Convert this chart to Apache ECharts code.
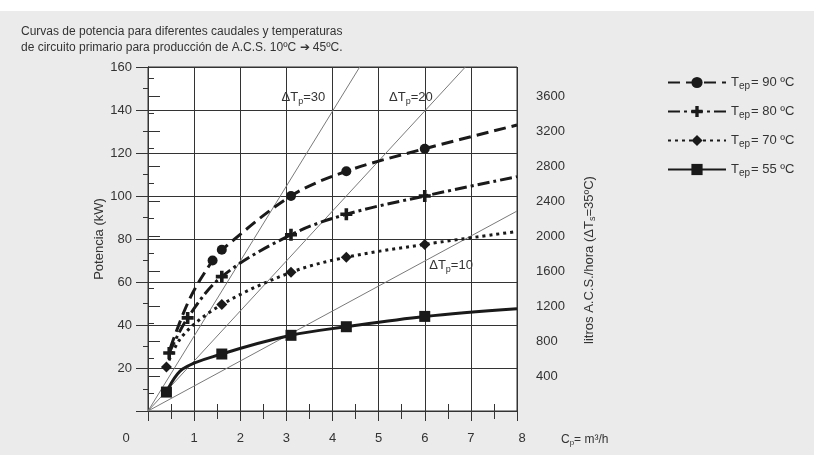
<!DOCTYPE html>
<html>
<head>
<meta charset="utf-8">
<script src="https://cdn.jsdelivr.net/npm/echarts@6/dist/echarts.min.js"></script>
<style>
  html, body { margin: 0; padding: 0; background: #ebebeb; }
  #chart { width: 814px; height: 455px; }
</style>
</head>
<body>
<div id="chart"></div>
<script>
// caudal primario (m3/h) vs potencia (kW)
const rightMajorTicks = [400, 800, 1200, 1600, 2000, 2400, 2800, 3200, 3600];
const rightMinorTicks = [200, 600, 1000, 1400, 1800, 2200, 2600, 3000, 3400, 3800];

const tep90 = [[0.48, 29], [0.9, 52], [1.4, 70], [1.6, 75], [3.1, 100], [4.3, 111.5], [6, 122], [8, 133]];
const tep90Marks = [1.4, 1.6, 3.1, 4.3, 6];
const tep80 = [[0.46, 27], [0.86, 43.3], [1.6, 62.5], [3.1, 82], [4.3, 91.5], [6, 100], [8, 109]];
const tep80Marks = [0.46, 0.86, 1.6, 3.1, 4.3, 6];
const tep70 = [[0.4, 20.5], [0.75, 35], [1.6, 49.5], [3.1, 64.5], [4.3, 71.5], [6, 77.5], [8, 83.5]];
const tep70Marks = [0.4, 1.6, 3.1, 4.3, 6];
const tep55 = [[0.4, 8.8], [0.75, 19.5], [1.6, 26.5], [3.1, 35.2], [4.3, 39.2], [6, 44], [8, 47.6]];
const tep55Marks = [0.4, 1.6, 3.1, 4.3, 6];

const dt10 = [[0, 0], [8, 93]];
const dt20 = [[0, 0], [6.88, 160]];
const dt30 = [[0, 0], [4.59, 160]];
const dtLabels = [['30', 3.37, 146], ['20', 5.7, 146], ['10', 6.57, 67.5]];

const FONT = "'Liberation Sans Narrow', 'Arial Narrow', 'Liberation Sans', Arial, sans-serif";
const INK = '#1a1a1a';
const GRID = '#333';
const PLUS = 'path://M3.5,0h3v3.5h3.5v3h-3.5v3.5h-3v-3.5h-3.5v-3h3.5z';

const withMarks = (points, marks) => points.map(p =>
  marks.includes(p[0]) ? { value: p } : { value: p, symbol: 'none' });

const curve = (name, points, marks, symbol, symbolSize, dash) => ({
  name: name,
  type: 'line',
  smooth: 0.35,
  symbol: symbol,
  symbolSize: symbolSize,
  showSymbol: true,
  itemStyle: { color: INK },
  lineStyle: { color: INK, width: 3, type: dash },
  z: 5,
  data: withMarks(points, marks)
});

const deltaLine = (points, label) => ({
  type: 'line',
  symbol: 'none',
  silent: true,
  lineStyle: { color: '#7a7a7a', width: 1 },
  z: 3,
  data: points,
  markPoint: {
    symbol: 'circle',
    symbolSize: 1,
    itemStyle: { color: 'rgba(0,0,0,0)' },
    label: {
      show: true,
      formatter: '{a|ΔT}{s|p}{a|=' + label[0] + '}',
      rich: {
        a: { fontFamily: FONT, fontSize: 13, color: '#333' },
        s: { fontFamily: FONT, fontSize: 9, color: '#333', padding: [8, 0, 0, 0] }
      }
    },
    data: [{ coord: [label[1], label[2]] }]
  }
});

const legendText = {
  'Tep90': '= 90 ºC',
  'Tep80': '= 80 ºC',
  'Tep70': '= 70 ºC',
  'Tep55': '= 55 ºC'
};

const myChart = echarts.init(document.getElementById('chart'));
const rightMax = 160 * 860 / 35;

const option = {
  backgroundColor: '#ebebeb',
  animation: false,
  textStyle: { fontFamily: FONT },
  graphic: [{
    type: 'rect',
    shape: { x: 0, y: 0, width: 814, height: 11 },
    style: { fill: '#fff' },
    silent: true
  }],
  title: {
    text: 'Curvas de potencia para diferentes caudales y temperaturas\nde circuito primario para producción de A.C.S. 10ºC ➔ 45ºC.',
    left: 16,
    top: 19,
    textStyle: { fontFamily: FONT, fontSize: 12, fontWeight: 'normal', color: '#333', lineHeight: 16 }
  },
  legend: {
    orient: 'vertical',
    left: 662,
    top: 71,
    itemWidth: 58,
    itemHeight: 14,
    itemGap: 14,
    data: ['Tep90', 'Tep80', 'Tep70', 'Tep55'],
    formatter: name => '{t|T}{s|ep}{t|' + legendText[name] + '}',
    textStyle: {
      color: '#333',
      rich: {
        t: { fontFamily: FONT, fontSize: 13, color: '#333' },
        s: { fontFamily: FONT, fontSize: 10, color: '#333', padding: [7, 1, 0, 0] }
      }
    }
  },
  grid: {
    left: 148, right: 297, top: 67, bottom: 44,
    show: true,
    backgroundColor: '#fff',
    borderColor: GRID,
    borderWidth: 1,
    outerBoundsMode: 'none'
  },
  xAxis: [{
    type: 'value',
    position: 'bottom',
    min: 0, max: 8, interval: 1,
    name: '{a|C}{s|p}{a|= m³/h}',
    nameLocation: 'end',
    nameGap: 44,
    nameTextStyle: {
      padding: [58, 0, 0, 0],
      rich: {
        a: { fontFamily: FONT, fontSize: 12, color: '#333' },
        s: { fontFamily: FONT, fontSize: 8, color: '#333', padding: [5, 0, 0, 0] }
      }
    },
    axisLine: { show: true, lineStyle: { color: GRID } },
    axisTick: { show: true, length: 10, lineStyle: { color: GRID } },
    splitLine: { show: true, lineStyle: { color: GRID, width: 1 } },
    axisLabel: {
      margin: 21,
      color: '#333',
      fontSize: 13,
      formatter: v => v === 0 ? '{z|0}' : (v === 8 ? '{e|8}' : '{n|' + v + '}'),
      rich: {
        z: { fontFamily: FONT, fontSize: 13, color: '#333', padding: [0, 44, 0, 0] },
        e: { fontFamily: FONT, fontSize: 13, color: '#333', padding: [0, 0, 0, 10] },
        n: { fontFamily: FONT, fontSize: 13, color: '#333' }
      }
    }
  }, {
    type: 'value',
    position: 'bottom',
    min: 0, max: 8, interval: 0.5,
    axisLine: { show: false },
    axisTick: { show: true, inside: true, length: 7, lineStyle: { color: GRID } },
    axisLabel: { show: false },
    splitLine: { show: false }
  }, {
    type: 'value',
    position: 'top',
    min: 0, max: 8, interval: 0.5,
    axisLine: { show: true, lineStyle: { color: GRID } },
    axisTick: { show: true, inside: true, length: 8, lineStyle: { color: GRID } },
    axisLabel: { show: false },
    splitLine: { show: false }
  }],
  yAxis: [{
    type: 'value',
    position: 'left',
    min: 0, max: 160, interval: 20,
    name: 'Potencia (kW)',
    nameLocation: 'middle',
    nameGap: 38,
    nameTextStyle: { fontFamily: FONT, fontSize: 13, color: '#333' },
    axisLine: { show: true, lineStyle: { color: GRID } },
    axisTick: { show: true, length: 12, lineStyle: { color: GRID } },
    minorTick: { show: true, splitNumber: 2, length: 5, lineStyle: { color: GRID } },
    splitLine: { show: true, lineStyle: { color: GRID, width: 1 } },
    axisLabel: {
      margin: 16,
      color: '#333',
      fontSize: 13,
      formatter: v => v === 0 ? '' : String(v)
    }
  }, {
    type: 'value',
    position: 'right',
    min: 0, max: rightMax,
    name: '{a|litros A.C.S./hora (ΔT}{s|s}{a|=35ºC)}',
    nameLocation: 'middle',
    nameGap: 64,
    nameTextStyle: {
      padding: [0, 42, 0, 0],
      rich: {
        a: { fontFamily: FONT, fontSize: 13, color: '#333' },
        s: { fontFamily: FONT, fontSize: 9, color: '#333', padding: [7, 0, 0, 0] }
      }
    },
    axisLine: { show: true, lineStyle: { color: GRID } },
    axisTick: { show: true, length: 12, customValues: rightMajorTicks, lineStyle: { color: GRID } },
    axisLabel: {
      margin: 19, color: '#333', fontSize: 13,
      customValues: rightMajorTicks,
      formatter: v => String(Math.round(v))
    },
    splitLine: { show: false }
  }, {
    type: 'value',
    position: 'right',
    min: 0, max: rightMax,
    axisLine: { show: false },
    axisTick: { show: true, length: 6, customValues: rightMinorTicks, lineStyle: { color: GRID } },
    axisLabel: { show: false },
    splitLine: { show: false }
  }],
  series: [
    deltaLine(dt10, dtLabels[2]),
    deltaLine(dt20, dtLabels[1]),
    deltaLine(dt30, dtLabels[0]),
    curve('Tep90', tep90, tep90Marks, 'circle', 10, [12, 6]),
    curve('Tep80', tep80, tep80Marks, PLUS, 12, [12, 4, 3, 4]),
    curve('Tep70', tep70, tep70Marks, 'diamond', 11, [3, 4]),
    curve('Tep55', tep55, tep55Marks, 'rect', 11, 'solid')
  ]
};

myChart.setOption(option, true);
</script>
</body>
</html>
